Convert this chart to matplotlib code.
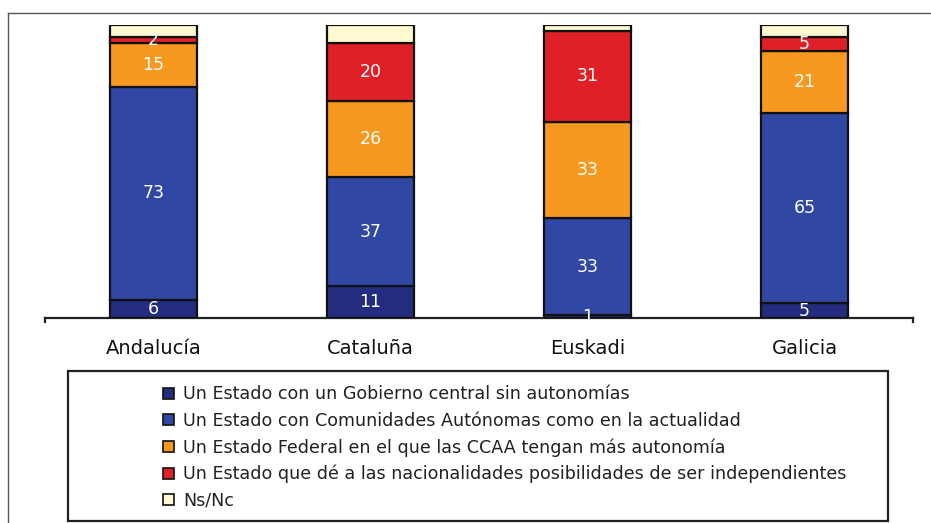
import matplotlib
matplotlib.use("Agg")
import matplotlib.pyplot as plt
from matplotlib.patches import Rectangle, Patch
from matplotlib.lines import Line2D
import numpy as np

categories = ["Andalucía", "Cataluña", "Euskadi", "Galicia"]
series_names = [
    "Un Estado con un Gobierno central sin autonomías",
    "Un Estado con Comunidades Autónomas como en la actualidad",
    "Un Estado Federal en el que las CCAA tengan más autonomía",
    "Un Estado que dé a las nacionalidades posibilidades de ser independientes",
    "Ns/Nc",
]
sin_autonomias = [6, 11, 1, 5]
comunidades = [73, 37, 33, 65]
federal = [15, 26, 33, 21]
independientes = [2, 20, 31, 5]
nsnc = [4, 6, 2, 4]
show_labels = [True, True, True, True, False]

colors = ["#232C7E", "#3048A4", "#F7981F", "#DF2027", "#FFF9D2"]

W, H = 931, 523
fig = plt.figure(figsize=(W / 100, H / 100), dpi=100)
fig.patch.set_facecolor("white")

ax = fig.add_axes([45 / W, (H - 318) / H, (913 - 45) / W, 293 / H])
x = np.arange(len(categories))
bottom = np.zeros(len(categories))
data = [sin_autonomias, comunidades, federal, independientes, nsnc]
for vals, col, lab in zip(data, colors, show_labels):
    vals = np.array(vals, dtype=float)
    ax.bar(x, vals, bottom=bottom, width=0.405, color=col, edgecolor="#111111",
           linewidth=1.6, zorder=3)
    if lab:
        for xi, v, b in zip(x, vals, bottom):
            ax.text(xi, b + v / 2, f"{int(v)}", ha="center", va="center",
                    color="white", fontsize=12.5, zorder=4)
    bottom += vals

ax.set_xlim(-0.5, 3.5)
ax.set_ylim(0, 100)
for s in ["top", "left", "right"]:
    ax.spines[s].set_visible(False)
ax.spines["bottom"].set_linewidth(1.6)
ax.spines["bottom"].set_color("#222222")
ax.set_yticks([])
ax.set_xticks(x)
ax.set_xticklabels(categories, fontsize=14, color="#111111")
ax.tick_params(axis="x", length=0, pad=15)
# end ticks on axis line
for xe in (0.0, 1.0):
    ax.add_line(Line2D([xe, xe], [0, -0.015], transform=ax.transAxes,
                       color="#222222", linewidth=1.6, clip_on=False))

# outer frame (top and left)
fig.add_artist(Line2D([8 / W, 1.0], [1 - 13 / H, 1 - 13 / H], transform=fig.transFigure,
                      color="#555555", linewidth=1.0))
fig.add_artist(Line2D([8 / W, 8 / W], [0, 1 - 13 / H], transform=fig.transFigure,
                      color="#555555", linewidth=1.0))

# legend box
fig.add_artist(Rectangle((68 / W, 1 - 521 / H), (888 - 68) / W, (521 - 371) / H,
                         transform=fig.transFigure, fill=False, edgecolor="#222222",
                         linewidth=1.6))
handles = [Patch(facecolor=c, edgecolor="#111111", linewidth=1.2) for c in colors]
leg = fig.legend(handles, series_names, loc="upper left",
                 bbox_to_anchor=(151 / W, 1 - 373 / H), frameon=False,
                 fontsize=12.6, handlelength=0.6, handleheight=0.6,
                 handletextpad=0.55, labelspacing=0.48, borderpad=0.2)
for t in leg.get_texts():
    t.set_color("#222222")

fig.savefig("out.png", dpi=100, facecolor="white")
